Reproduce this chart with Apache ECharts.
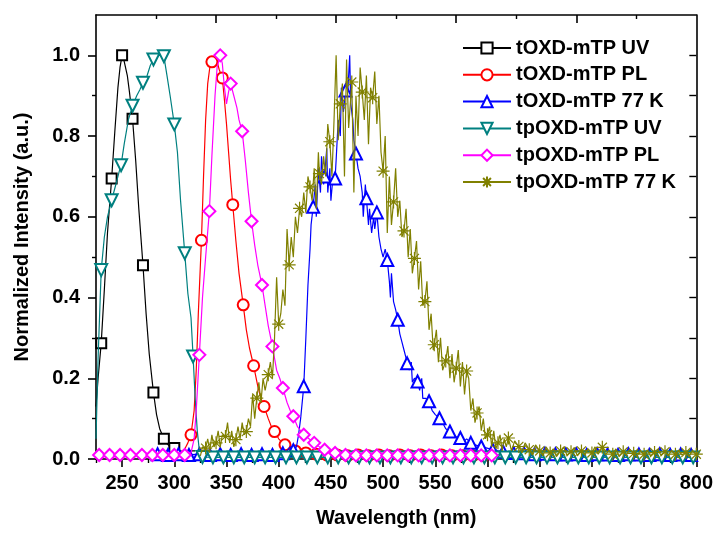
<!DOCTYPE html>
<html><head><meta charset="utf-8">
<script src="https://cdn.jsdelivr.net/npm/echarts@6/dist/echarts.min.js"></script>
<style>html,body{margin:0;padding:0;background:#fff}#c{width:716px;height:533px}</style>
</head><body><div id="c"></div>
<script>
// ---- axis ticks ----
const xMajor = [250,300,350,400,450,500,550,600,650,700,750,800];
const xMinor = [225,275,325,375,425,475,525,575,625,675,725,775];
const topMajor = [340,455,570,685];
const topMinor = [282.5,397.5,512.5,627.5,742.5];
const yMajor = [0,0.2,0.4,0.6,0.8,1.0];
const yMinor = [0.1,0.3,0.5,0.7,0.9];
const rightTicks = [0,0.1,0.2,0.3,0.4,0.5,0.6,0.7,0.8,0.9,1.0];

// ---- series names ----
const names = ['tOXD-mTP UV','tOXD-mTP PL','tOXD-mTP 77 K','tpOXD-mTP UV','tpOXD-mTP PL','tpOXD-mTP 77 K'];

// ---- tOXD-mTP UV ----
const tUV = [[225,0.13],[227,0.2],[230,0.287],[233,0.42],[236,0.56],[240,0.695],[243,0.81],[246,0.92],[248,0.97],[250,1.0],[252,0.985],[255,0.95],[257,0.91],[260,0.843],[263,0.74],[266,0.62],[270,0.48],[273,0.36],[276,0.26],[280,0.165],[283,0.11],[286,0.075],[290,0.05],[293,0.038],[296,0.03],[300,0.027],[305,0.02],[310,0.018],[315,0.02],[320,0.02]];
const tUVMarks = [230,240,250,260,270,280,290,300];

// ---- tOXD-mTP PL ----
const tPL = [[283,0.01],[290,0.012],[296,0.01],[302,0.012],[306,0.016],[310,0.025],[313,0.04],[316,0.06],[319,0.12],[321,0.22],[323,0.36],[326,0.542],[328,0.7],[330,0.84],[332,0.93],[334,0.97],[336,0.984],[339,0.99],[341,0.985],[343,0.965],[346,0.944],[348,0.89],[350,0.83],[352,0.76],[354,0.69],[356,0.63],[359,0.54],[362,0.46],[366,0.382],[369,0.32],[372,0.275],[376,0.231],[380,0.18],[383,0.15],[386,0.13],[390,0.1],[393,0.08],[396,0.068],[400,0.05],[403,0.042],[406,0.035],[410,0.025],[416,0.02],[421,0.016],[426,0.015],[436,0.012],[446,0.01],[456,0.01],[466,0.008],[476,0.01],[486,0.008],[496,0.01],[506,0.008],[516,0.01],[526,0.008],[536,0.01],[546,0.008],[556,0.01],[566,0.008],[576,0.008],[586,0.008],[596,0.008]];
const tPLMarks = [316,326,336,346,356,366,376,386,396,406,416,426,436,446,456,466,476,486,496,506,516,526,536,546,556,566,576,586,596];

// ---- tOXD-mTP 77 K ----
const t77 = [[284,0.012],[294,0.01],[304,0.012],[314,0.01],[324,0.012],[334,0.01],[344,0.012],[354,0.01],[364,0.012],[374,0.01],[384,0.012],[394,0.01],[404,0.014],[408,0.02],[411,0.03],[414,0.022],[417,0.03],[419,0.06],[421,0.1],[424,0.18],[426,0.3],[428,0.43],[430,0.52],[431,0.58],[433,0.625],[435,0.68],[436,0.6],[438,0.72],[440,0.66],[441,0.75],[443,0.68],[444,0.7],[446,0.77],[447,0.66],[449,0.72],[450,0.64],[452,0.7],[454,0.695],[455,0.74],[457,0.84],[459,0.8],[460,0.92],[462,0.86],[464,0.913],[466,0.9],[468,1.0],[469,0.88],[471,0.84],[472,0.79],[474,0.757],[476,0.72],[478,0.7],[480,0.66],[481,0.6],[483,0.68],[484,0.646],[486,0.58],[487,0.62],[489,0.56],[491,0.6],[492,0.57],[494,0.611],[496,0.55],[498,0.52],[500,0.5],[502,0.52],[504,0.493],[506,0.44],[507,0.4],[508,0.46],[510,0.39],[512,0.37],[514,0.345],[516,0.31],[518,0.29],[520,0.27],[522,0.25],[523,0.237],[525,0.22],[527,0.24],[528,0.19],[530,0.2],[533,0.192],[535,0.17],[537,0.2],[538,0.15],[541,0.15],[544,0.143],[547,0.12],[550,0.11],[554,0.101],[557,0.09],[560,0.075],[564,0.068],[567,0.06],[570,0.055],[574,0.052],[578,0.045],[580,0.05],[584,0.04],[588,0.035],[594,0.031],[598,0.028],[605,0.023],[610,0.02],[615,0.018],[620,0.016],[625,0.015],[635,0.014],[645,0.012],[655,0.013],[665,0.012],[675,0.011],[685,0.012],[695,0.01],[705,0.012],[715,0.011],[725,0.01],[735,0.012],[745,0.011],[755,0.01],[765,0.012],[775,0.01],[785,0.011],[795,0.01],[800,0.01]];
const t77Marks = [284,294,304,314,324,334,344,354,364,374,384,394,404,414,424,433,444,454,464,474,484,494,504,514,523,533,544,554,564,574,584,594,605,615,625,635,645,655,665,675,685,695,705,715,725,735,745,755,765,775,785,795];

// ---- tpOXD-mTP UV ----
const tpUV = [[225,0.05],[227,0.25],[230,0.468],[233,0.55],[236,0.6],[240,0.641],[244,0.68],[247,0.71],[249,0.728],[252,0.78],[256,0.84],[260,0.875],[264,0.9],[267,0.915],[270,0.932],[274,0.95],[277,0.975],[280,0.99],[284,1.0],[287,1.0],[290,0.998],[293,0.95],[296,0.9],[300,0.829],[303,0.76],[306,0.64],[310,0.51],[313,0.41],[316,0.35],[318,0.254],[320,0.15],[322,0.07],[324,0.02],[327,0.005],[337,0.004],[347,0.004],[357,0.004],[367,0.004],[377,0.004],[387,0.004],[397,0.004],[407,0.004],[417,0.004],[427,0.004],[437,0.004],[447,0.004],[457,0.004],[467,0.004],[477,0.004],[487,0.004],[497,0.004],[507,0.004],[517,0.004],[527,0.004],[537,0.004],[547,0.004],[557,0.004],[567,0.004],[577,0.004],[587,0.004],[597,0.004],[607,0.004],[617,0.004],[627,0.004],[637,0.004],[647,0.004],[657,0.004],[667,0.004],[677,0.004],[687,0.004],[697,0.004],[707,0.004],[717,0.004],[727,0.004],[737,0.004],[747,0.004],[757,0.004],[767,0.004],[777,0.004],[787,0.004],[797,0.004],[800,0.004]];
const tpUVMarks = [230,240,249,260,270,280,290,300,310,318,327,337,347,357,367,377,387,397,407,417,427,437,447,457,467,477,487,497,507,517,527,537,547,557,567,577,587,597,607,617,627,637,647,657,667,677,687,697,707,717,727,737,747,757,767,777,787,797];

// ---- tpOXD-mTP PL ----
const tpPL = [[225,0.008],[228,0.01],[238,0.01],[248,0.01],[258,0.01],[269,0.01],[279,0.01],[289,0.01],[300,0.01],[310,0.01],[316,0.015],[319,0.05],[321,0.12],[324,0.258],[327,0.4],[330,0.5],[333.6,0.614],[336,0.75],[339,0.9],[341,0.97],[344,1.0],[346,0.98],[348,0.92],[350,0.88],[352,0.91],[354,0.93],[357,0.9],[360,0.87],[362,0.84],[365,0.812],[368,0.74],[371,0.66],[374,0.589],[377,0.53],[380,0.48],[384,0.431],[387,0.38],[390,0.33],[394,0.279],[398,0.22],[401,0.2],[404,0.176],[408,0.14],[411,0.12],[414,0.106],[418,0.08],[421,0.07],[424,0.06],[429,0.05],[434,0.04],[439,0.03],[444,0.023],[449,0.018],[454,0.015],[464,0.01],[474,0.009],[484,0.009],[494,0.009],[504,0.009],[514,0.009],[524,0.009],[534,0.009],[544,0.009],[554,0.009],[564,0.009],[574,0.009],[584,0.009],[594,0.009],[604,0.009]];
const tpPLMarks = [228,238,248,258,269,279,289,300,310,324,333.6,344,354,365,374,384,394,404,414,424,434,444,454,464,474,484,494,504,514,524,534,544,554,564,574,584,594,604];

// ---- tpOXD-mTP 77 K ----
const tp77 = [[325,0.008],[327,0.03],[330,0.027],[332,0.05],[334,0.02],[336,0.06],[338,0.03],[340,0.04],[342,0.07],[344,0.03],[346,0.06],[349,0.056],[351,0.09],[353,0.04],[355,0.07],[357,0.03],[359,0.048],[361,0.08],[363,0.05],[365,0.09],[367,0.06],[369,0.068],[371,0.1],[373,0.08],[375,0.16],[377,0.1],[379,0.151],[381,0.19],[383,0.14],[385,0.2],[387,0.17],[390,0.209],[392,0.24],[394,0.2],[396,0.3],[398,0.45],[400,0.334],[402,0.36],[404,0.42],[406,0.38],[408,0.57],[410,0.481],[412,0.55],[414,0.5],[416,0.6],[418,0.56],[420,0.621],[422,0.6],[424,0.66],[426,0.61],[428,0.7],[430,0.674],[432,0.64],[434,0.72],[436,0.62],[438,0.76],[439,0.707],[441,0.68],[443,0.75],[445,0.7],[447,0.83],[449,0.786],[451,0.7],[453,0.84],[455,1.0],[457,0.79],[459,0.88],[461,0.93],[463,0.7],[465,0.99],[467,0.82],[470,0.934],[472,0.66],[474,0.9],[476,0.8],[478,0.97],[480,0.909],[482,0.84],[484,0.95],[486,0.78],[488,0.92],[490,0.895],[492,0.96],[494,0.83],[496,0.9],[498,0.76],[500,0.713],[502,0.8],[504,0.56],[506,0.7],[508,0.58],[510,0.637],[512,0.72],[514,0.6],[516,0.64],[518,0.55],[520,0.565],[522,0.62],[524,0.5],[526,0.57],[528,0.46],[530,0.497],[532,0.54],[534,0.42],[536,0.49],[538,0.38],[540,0.39],[542,0.44],[544,0.32],[546,0.36],[548,0.27],[549,0.283],[551,0.32],[553,0.24],[555,0.3],[557,0.22],[560,0.243],[562,0.28],[564,0.2],[566,0.26],[568,0.19],[570,0.225],[572,0.27],[574,0.18],[576,0.24],[578,0.16],[580,0.218],[582,0.2],[584,0.12],[586,0.15],[588,0.09],[590,0.114],[592,0.13],[594,0.07],[596,0.1],[598,0.05],[600,0.06],[602,0.08],[604,0.03],[606,0.07],[608,0.025],[610,0.04],[612,0.06],[614,0.02],[616,0.05],[618,0.03],[620,0.052],[623,0.02],[626,0.045],[630,0.031],[633,0.015],[636,0.04],[640,0.023],[643,0.01],[646,0.035],[650,0.02],[653,0.008],[656,0.03],[660,0.015],[663,0.025],[666,0.006],[670,0.02],[673,0.03],[676,0.01],[680,0.018],[683,0.028],[686,0.008],[690,0.02],[693,0.01],[696,0.025],[700,0.015],[703,0.03],[706,0.012],[710,0.029],[713,0.01],[716,0.02],[720,0.012],[723,0.025],[726,0.006],[730,0.018],[733,0.01],[736,0.024],[740,0.014],[743,0.006],[746,0.02],[750,0.012],[753,0.022],[756,0.008],[760,0.016],[763,0.024],[766,0.01],[770,0.018],[773,0.008],[776,0.02],[780,0.012],[783,0.022],[786,0.01],[790,0.016],[793,0.006],[796,0.02],[800,0.012]];
const tp77Marks = [330,340,349,359,369,379,390,400,410,420,430,439,449,459,470,480,490,500,510,520,530,540,549,560,570,580,590,600,610,620,630,640,650,660,670,680,690,700,710,720,730,740,750,760,770,780,790,800];

const colors = ['#000000','#ff0000','#0000ff','#008080','#ff00ff','#808000'];
const starPath = 'path://M5,0L5,10M0,5L10,5M1.5,1.5L8.5,8.5M1.5,8.5L8.5,1.5';

function build(line, marks) {
  return line.map(p => marks.indexOf(p[0]) >= 0 ? {value: p} : {value: p, symbol: 'none'});
}

const specs = [
  {d: tUV, m: tUVMarks, sym: 'emptyRect', size: 10, rot: 0},
  {d: tPL, m: tPLMarks, sym: 'emptyCircle', size: 11, rot: 0},
  {d: t77, m: t77Marks, sym: 'emptyTriangle', size: 12, rot: 0},
  {d: tpUV, m: tpUVMarks, sym: 'emptyTriangle', size: 12, rot: 180},
  {d: tpPL, m: tpPLMarks, sym: 'emptyDiamond', size: 12, rot: 0},
  {d: tp77, m: tp77Marks, sym: starPath, size: 13, rot: 0}
];

const series = specs.map((s, i) => {
  const o = {
    name: names[i], type: 'line', xAxisIndex: 0, yAxisIndex: 0,
    data: build(s.d, s.m), symbol: s.sym, symbolSize: s.size, symbolRotate: s.rot,
    showSymbol: true, showAllSymbol: true, animation: false, z: 2 + i,
    lineStyle: {color: colors[i], width: 1.2},
    itemStyle: {color: colors[i], borderColor: colors[i], borderWidth: 1.1}
  };
  if (i === 5) { o.itemStyle = {color: colors[i], borderColor: colors[i], borderWidth: 1.2}; }
  return o;
});

const font = 'Liberation Sans, Arial, sans-serif';
const axisLineStyle = {color: '#000', width: 1.6};

const option = {
  animation: false,
  grid: {left: 96, right: 18, top: 15, bottom: 72, containLabel: false},
  legend: {
    data: names, orient: 'vertical', left: 457, top: 33,
    itemWidth: 48, itemHeight: 14, itemGap: 6.8,
    textStyle: {fontFamily: font, fontSize: 20, fontWeight: 'bold', color: '#000', lineHeight: 20}
  },
  xAxis: [
    {type: 'value', position: 'bottom', min: 225, max: 800,
     axisLine: {onZero: false, lineStyle: axisLineStyle},
     axisTick: {customValues: xMajor, length: 8, inside: false, lineStyle: {color: '#000', width: 1.6}},
     axisLabel: {customValues: xMajor, margin: 14, fontFamily: font, fontSize: 20, fontWeight: 'bold', color: '#000'},
     splitLine: {show: false},
     name: 'Wavelength (nm)', nameLocation: 'middle', nameGap: 49,
     nameTextStyle: {fontFamily: font, fontSize: 20, fontWeight: 'bold', color: '#000'}},
    {type: 'value', position: 'bottom', min: 225, max: 800,
     axisLine: {show: false, onZero: false},
     axisTick: {customValues: xMinor, length: 4, inside: false, lineStyle: {color: '#000', width: 1.4}},
     axisLabel: {show: false}, splitLine: {show: false}},
    {type: 'value', position: 'top', min: 225, max: 800,
     axisLine: {onZero: false, lineStyle: axisLineStyle},
     axisTick: {customValues: topMajor, length: 8, inside: true, lineStyle: {color: '#000', width: 1.6}},
     axisLabel: {show: false}, splitLine: {show: false}},
    {type: 'value', position: 'top', min: 225, max: 800,
     axisLine: {show: false, onZero: false},
     axisTick: {customValues: topMinor, length: 4, inside: true, lineStyle: {color: '#000', width: 1.4}},
     axisLabel: {show: false}, splitLine: {show: false}}
  ],
  yAxis: [
    {type: 'value', position: 'left', min: 0, max: 1.1,
     axisLine: {show: true, onZero: false, lineStyle: axisLineStyle},
     axisTick: {show: true, customValues: yMajor, length: 8, inside: false, lineStyle: {color: '#000', width: 1.6}},
     axisLabel: {customValues: yMajor, margin: 16, fontFamily: font, fontSize: 20, fontWeight: 'bold', color: '#000',
                 formatter: v => Number(v).toFixed(1)},
     splitLine: {show: false},
     name: 'Normalized Intensity (a.u.)', nameLocation: 'middle', nameGap: 64, nameRotate: 90,
     nameTextStyle: {fontFamily: font, fontSize: 20, fontWeight: 'bold', color: '#000'}},
    {type: 'value', position: 'left', min: 0, max: 1.1,
     axisLine: {show: false, onZero: false},
     axisTick: {show: true, customValues: yMinor, length: 4, inside: false, lineStyle: {color: '#000', width: 1.4}},
     axisLabel: {show: false}, splitLine: {show: false}},
    {type: 'value', position: 'right', min: 0, max: 1.1,
     axisLine: {show: true, onZero: false, lineStyle: axisLineStyle},
     axisTick: {show: true, customValues: rightTicks, length: 7, inside: true, lineStyle: {color: '#000', width: 1.4}},
     axisLabel: {show: false}, splitLine: {show: false}}
  ],
  series: series
};

const chart = echarts.init(document.getElementById('c'), null, {renderer: 'canvas'});
chart.setOption(option);
</script>
</body></html>
